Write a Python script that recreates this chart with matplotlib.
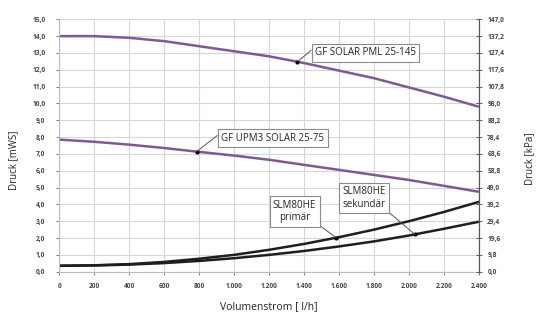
import numpy as np
import matplotlib
matplotlib.use("Agg")
import matplotlib.pyplot as plt
from matplotlib.ticker import FuncFormatter, FixedLocator

plt.rcParams['font.family'] = ['Open Sans', 'DejaVu Sans']

# data
flow = [0, 200, 400, 600, 800, 1000, 1200, 1400, 1600, 1800, 2000, 2200, 2400]
pml_25_145 = [14.0, 14.0, 13.9, 13.7, 13.4, 13.1, 12.8, 12.4, 11.95, 11.5, 10.95, 10.4, 9.8]
upm3_25_75 = [7.85, 7.72, 7.55, 7.35, 7.12, 6.9, 6.65, 6.35, 6.05, 5.75, 5.45, 5.1, 4.75]
slm_primaer = [0.35, 0.38, 0.45, 0.58, 0.77, 1.0, 1.3, 1.65, 2.05, 2.5, 3.0, 3.55, 4.15]
slm_sekundaer = [0.35, 0.37, 0.42, 0.51, 0.64, 0.8, 1.0, 1.23, 1.5, 1.8, 2.15, 2.55, 2.97]

left_ticks = [0, 1, 2, 3, 4, 5, 6, 7, 8, 9, 10, 11, 12, 13, 14, 15]
right_ticks = [0.0, 9.8, 19.6, 29.4, 39.2, 49.0, 58.8, 68.6, 78.4, 88.2, 98.0, 107.8, 117.6, 127.4, 137.2, 147.0]
x_ticks = [0, 200, 400, 600, 800, 1000, 1200, 1400, 1600, 1800, 2000, 2200, 2400]

purple = '#7d5a93'
black = '#1e1e1e'

fig = plt.figure(figsize=(5.43, 3.2), dpi=100)
ax = fig.add_axes([0.1092, 0.151, 0.7728, 0.7887])

ax.set_xlim(0, 2400)
ax.set_ylim(0, 15)
ax.yaxis.set_major_locator(FixedLocator(left_ticks))
ax.xaxis.set_major_locator(FixedLocator(x_ticks))
ax.grid(True, color='#d6d6d6', lw=0.8)
ax.set_axisbelow(True)

ax.plot(flow, pml_25_145, color=purple, lw=1.8, solid_capstyle='butt')
ax.plot(flow, upm3_25_75, color=purple, lw=1.8, solid_capstyle='butt')
ax.plot(flow, slm_primaer, color=black, lw=1.8)
ax.plot(flow, slm_sekundaer, color=black, lw=1.8)

def de_fmt(v, pos):
    return ('%.1f' % v).replace('.', ',')

def x_fmt(v, pos):
    return '{:,.0f}'.format(v).replace(',', '.')

ax.yaxis.set_major_formatter(FuncFormatter(de_fmt))
ax.xaxis.set_major_formatter(FuncFormatter(x_fmt))
ax.tick_params(axis='both', labelsize=4.8, colors='#444444', length=2, width=0.5, pad=8)
ax.tick_params(axis='x', pad=6)
for lbl in ax.get_xticklabels() + ax.get_yticklabels():
    lbl.set_fontweight('bold')

for s in ['top']:
    ax.spines[s].set_visible(False)
ax.spines['left'].set_color('#bbbbbb')
ax.spines['bottom'].set_color('#bbbbbb')
ax.spines['right'].set_color('#555555')

ax2 = ax.twinx()
ax2.set_ylim(0, 147)
ax2.yaxis.set_major_locator(FixedLocator(right_ticks))
ax2.yaxis.set_major_formatter(FuncFormatter(de_fmt))
ax2.tick_params(axis='y', labelsize=4.8, colors='#444444', direction='inout', length=4, width=0.6, pad=4)
for lbl in ax2.get_yticklabels():
    lbl.set_fontweight('bold')
for s in ['top', 'left', 'bottom']:
    ax2.spines[s].set_visible(False)
ax2.spines['right'].set_color('#555555')

ax.set_xlabel('Volumenstrom [ l/h]', fontsize=7.5, color='#222222', labelpad=8)
fig.text(0.025, 0.5, 'Druck [mWS]', rotation=90, fontsize=7, color='#222222', va='center', ha='center')
fig.text(0.975, 0.505, 'Druck [kPa]', rotation=90, fontsize=7, color='#222222', va='center', ha='center')

box = dict(boxstyle='square,pad=0.35', fc='white', ec='#8a8a8a', lw=0.8)

def note(text, xq, series, tx, ty, relpos):
    yq = float(np.interp(xq, flow, series))
    ax.plot([xq], [yq], 'o', color='black', ms=2, zorder=5)
    ax.annotate(text, xy=(xq, yq), xytext=(tx, ty), textcoords='data',
                fontsize=7, color='#222222', ha='center', va='center',
                bbox=box, zorder=6,
                arrowprops=dict(arrowstyle='-', color='#555555', lw=0.7,
                                relpos=relpos, shrinkA=0, shrinkB=0))

note('GF SOLAR PML 25-145', 1362, pml_25_145, 1751, 13.02, (0.0, 1.0))
note('GF UPM3 SOLAR 25-75', 785, upm3_25_75, 1220, 7.94, (0.0, 1.0))
note('SLM80HE\nprimär', 1585, slm_primaer, 1346, 3.58, (1.0, 0.0))
note('SLM80HE\nsekundär', 2033, slm_sekundaer, 1744, 4.38, (1.0, 0.0))

fig.savefig('out.png', dpi=100)
